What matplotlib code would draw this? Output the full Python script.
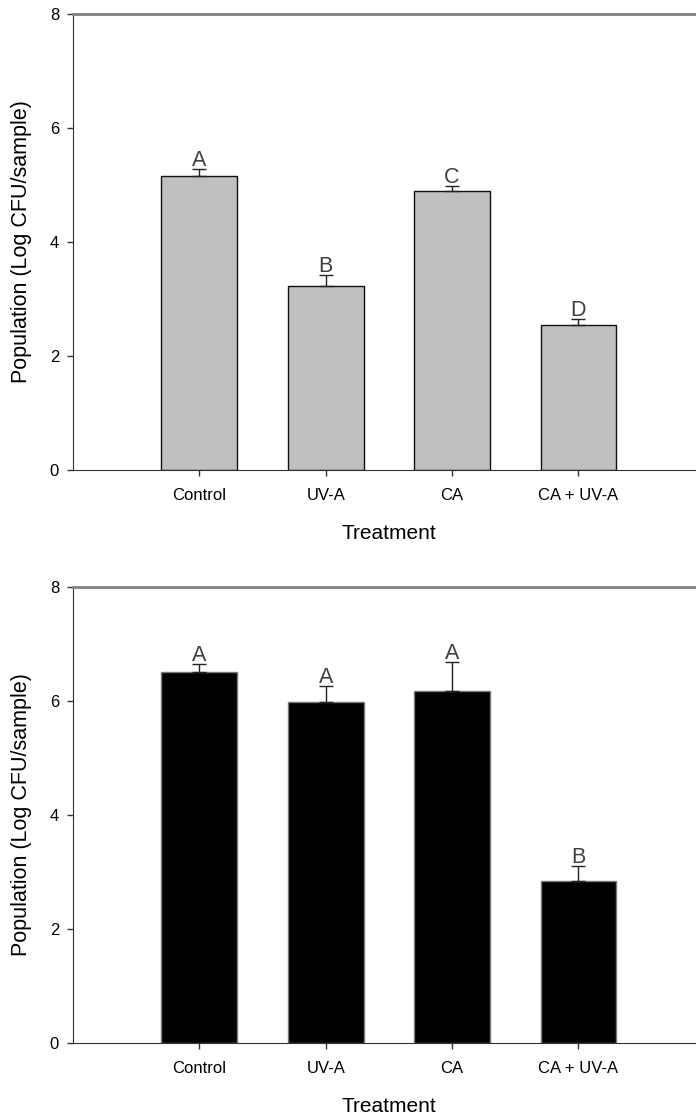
import matplotlib
matplotlib.use("Agg")
import matplotlib.pyplot as plt

plt.rcParams['font.family'] = ['Liberation Sans', 'DejaVu Sans']

categories = ["Control", "UV-A", "CA", "CA + UV-A"]
top_means = [5.16, 3.22, 4.89, 2.54]
top_err = [0.12, 0.20, 0.10, 0.11]
top_letters = ["A", "B", "C", "D"]
bot_means = [6.51, 5.99, 6.18, 2.85]
bot_err = [0.14, 0.27, 0.51, 0.26]
bot_letters = ["A", "A", "A", "B"]
yticks = [0, 2, 4, 6, 8]

W, H = 696, 1116
fig = plt.figure(figsize=(W / 100, H / 100), dpi=100)

def panel(rect, means, errs, letters, face, edge):
    ax = fig.add_axes(rect)
    x = list(range(1, len(categories) + 1))
    ax.bar(x, means, width=0.6, color=face, edgecolor=edge, linewidth=1.0, zorder=2)
    ax.errorbar(x, means, yerr=[[0] * len(errs), errs], fmt='none', ecolor='#222222',
                elinewidth=1.0, capsize=5, capthick=1.0, zorder=3)
    for xi, m, e, l in zip(x, means, errs, letters):
        ax.annotate(l, (xi, m + e), xytext=(0, 2), textcoords='offset points',
                    ha='center', va='baseline', fontsize=15.5, color='#404040')
    ax.set_xlim(0, 4.93)
    ax.set_ylim(0, 8)
    ax.set_yticks(yticks)
    ax.set_xticks(x)
    ax.set_xticklabels(categories)
    ax.tick_params(axis='both', direction='out', length=4, width=1, labelsize=12,
                   color='#333333', labelcolor='black')
    ax.tick_params(axis='x', pad=9)
    ax.tick_params(axis='y', pad=6)
    ax.spines['right'].set_visible(False)
    ax.spines['top'].set_color('#808080')
    ax.spines['top'].set_linewidth(2)
    ax.spines['left'].set_color('#333333')
    ax.spines['bottom'].set_color('#333333')
    ax.set_xlabel("Treatment", fontsize=15)
    ax.set_ylabel("Population (Log CFU/sample)", fontsize=15.5)
    ax.yaxis.set_label_coords(-0.066, 0.5)
    ax.xaxis.set_label_coords(0.507, -0.118)
    return ax

left = 73 / W
width = 1 - left
h = (470 - 14) / H
panel([left, (H - 470) / H, width, h], top_means, top_err, top_letters, '#c0c0c0', '#111111')
panel([left, (H - 1043) / H, width, h], bot_means, bot_err, bot_letters, 'black', '#777777')

fig.savefig("out.png", dpi=100)
